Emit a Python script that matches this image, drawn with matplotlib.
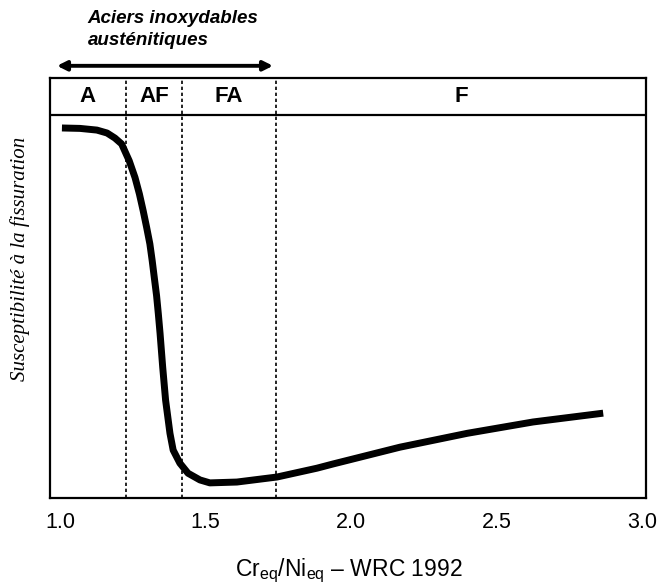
import matplotlib
matplotlib.use("Agg")
import matplotlib.pyplot as plt
import numpy as np

# data (y is an arbitrary susceptibility scale 0-100)
ratio = [1.007, 1.069, 1.127, 1.162, 1.189, 1.212, 1.238, 1.258, 1.273, 1.286,
         1.298, 1.309, 1.317, 1.324, 1.332, 1.338, 1.344, 1.353, 1.363, 1.378,
         1.389, 1.412, 1.440, 1.481, 1.515, 1.608, 1.746, 1.883, 1.938, 2.168,
         2.399, 2.625, 2.866]
suscept = [88.1, 88.0, 87.6, 86.9, 85.7, 84.3, 80.3, 76.3, 72.4, 68.4,
           64.4, 60.5, 56.5, 52.6, 48.2, 43.9, 39.2, 31.2, 23.3, 15.4,
           11.4, 8.3, 5.9, 4.3, 3.6, 3.8, 5.0, 7.1, 8.1, 12.1,
           15.4, 18.1, 20.2]

boundaries = [1.227, 1.419, 1.742]
zone_labels = ['A', 'AF', 'FA', 'F']
xticks = [1.0, 1.5, 2.0, 2.5, 3.0]
xticklabels = ['1.0', '1.5', '2.0', '2.5', '3.0']

plt.rcParams['font.family'] = ['Liberation Sans', 'DejaVu Sans']
plt.rcParams['mathtext.fontset'] = 'custom'
plt.rcParams['mathtext.rm'] = 'Liberation Sans'
plt.rcParams['mathtext.default'] = 'regular'
plt.rcParams['axes.linewidth'] = 1.6

fig = plt.figure(figsize=(6.6, 5.84), dpi=100)
ax = fig.add_axes([50 / 660, 86 / 584, 596 / 660, 420 / 584])

xmin, xmax = 0.966, 3.013
ax.set_xlim(xmin, xmax)
ax.set_ylim(0, 100)

ax.plot(ratio, suscept, '-', color='black', linewidth=5,
        solid_capstyle='butt', solid_joinstyle='round')

# zone band at the top
band_y = 91.2
ax.axhline(band_y, color='black', linewidth=1.6)
for b in boundaries:
    ax.axvline(b, color='black', linewidth=1.2, linestyle=(0, (2, 1.6)))

edges = [xmin] + boundaries + [xmax]
for i, lab in enumerate(zone_labels):
    ax.text((edges[i] + edges[i + 1]) / 2, (band_y + 100) / 2, lab,
            ha='center', va='center', fontsize=16, fontweight='bold')

ax.set_yticks([])
ax.set_xticks(xticks)
ax.set_xticklabels(xticklabels, fontsize=15.5)
ax.tick_params(axis='x', length=0, pad=10)

fig.text(349 / 660, 1 - 576 / 584, r'Cr$_{eq}$/Ni$_{eq}$ – WRC 1992',
         ha='center', va='baseline', fontsize=16.5)

fig.text(20 / 660, 1 - 259 / 584, 'Susceptibilité à la fissuration',
         rotation=90, ha='center', va='center', fontsize=15,
         family='Liberation Serif', style='italic')

# austenitic range arrow
ax.annotate('', xy=(0.99, 102.9), xytext=(1.732, 102.9),
            xycoords='data', textcoords='data', annotation_clip=False,
            arrowprops=dict(arrowstyle='<|-|>', color='black', lw=2.8,
                            mutation_scale=14, shrinkA=0, shrinkB=0))
ax.text(1.096, 116.2, 'Aciers inoxydables\nausténitiques', ha='left', va='top',
        fontsize=13.5, fontweight='bold', style='italic', linespacing=1.35,
        clip_on=False)

fig.savefig('out.png', dpi=100)
